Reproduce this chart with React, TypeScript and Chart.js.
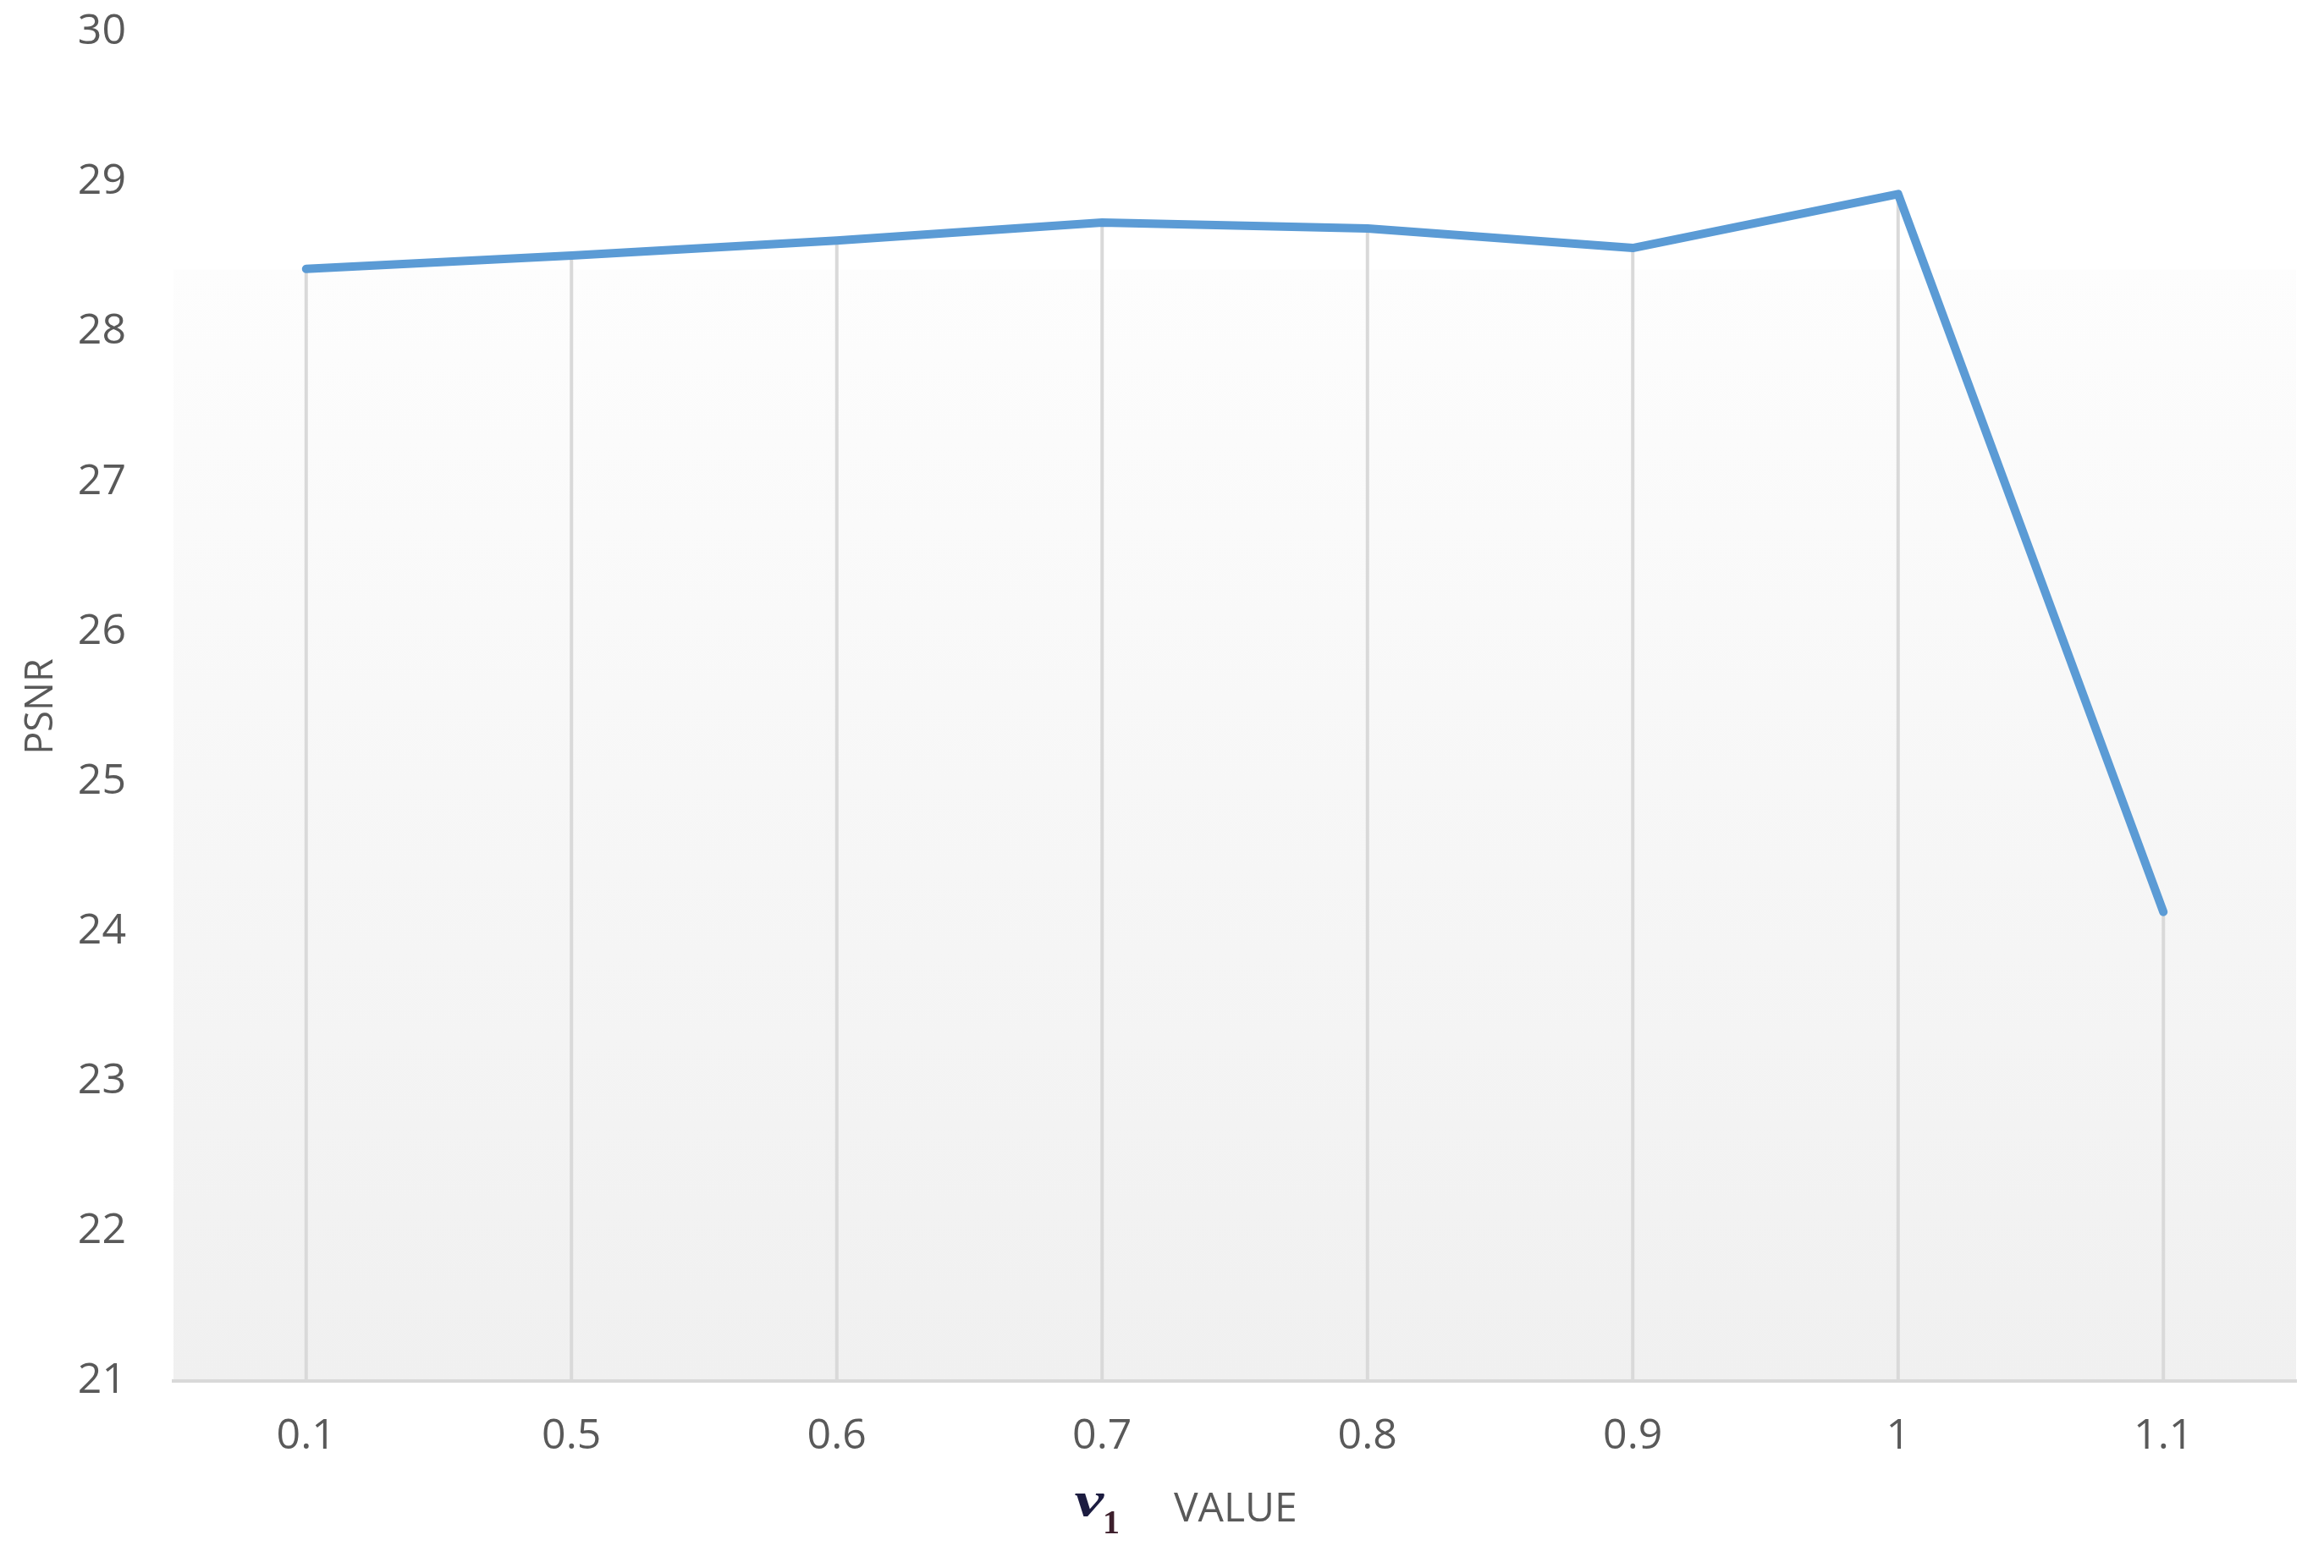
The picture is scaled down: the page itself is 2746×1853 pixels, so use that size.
import React, { useEffect, useRef } from "react";
import { Chart, registerables } from "chart.js";

Chart.register(...registerables);

// ---- data ----
const categories = ["0.1", "0.5", "0.6", "0.7", "0.8", "0.9", "1", "1.1"];
const psnrValues = [28.42, 28.51, 28.61, 28.73, 28.69, 28.56, 28.92, 24.13];
const yMin = 21;
const yMax = 30;
const yStep = 1;
const yAxisTitle = "PSNR";
const xTitleSymbol = "ν";
const xTitleSubscript = "1";
const xTitleWord = "VALUE";

const TEXT_COLOR = "#595959";
const LINE_COLOR = "#5B9BD5";
const GRID_COLOR = "#d9d9d9";

const backgroundPlugin = {
  id: "plotGradient",
  beforeDraw(chart: any) {
    const { ctx, chartArea: a } = chart;
    if (!a) return;
    ctx.save();
    ctx.fillStyle = "#ffffff";
    ctx.fillRect(0, 0, chart.width, chart.height);
    const top = a.top + (a.bottom - a.top) * 0.176;
    const g = ctx.createLinearGradient(0, top, 0, a.bottom);
    g.addColorStop(0, "#fdfdfd");
    g.addColorStop(1, "#f0f0f0");
    ctx.fillStyle = g;
    ctx.fillRect(a.left, top, a.right - a.left, a.bottom - top);
    ctx.restore();
  },
};

const dropLinePlugin = {
  id: "dropLines",
  beforeDatasetsDraw(chart: any) {
    const { ctx, chartArea: a } = chart;
    const meta = chart.getDatasetMeta(0);
    ctx.save();
    ctx.strokeStyle = GRID_COLOR;
    ctx.lineWidth = 4;
    meta.data.forEach((p: any) => {
      ctx.beginPath();
      ctx.moveTo(p.x, p.y);
      ctx.lineTo(p.x, a.bottom);
      ctx.stroke();
    });
    ctx.restore();
  },
};

const xTitlePlugin = {
  id: "xTitle",
  afterDraw(chart: any) {
    const { ctx, chartArea: a } = chart;
    const cx = (a.left + a.right) / 2;
    const y = a.bottom + 152;
    ctx.save();
    ctx.textBaseline = "middle";
    ctx.textAlign = "center";
    // greek nu, bold italic serif, stretched a little wider
    ctx.save();
    ctx.translate(cx - 172, y - 8);
    ctx.scale(1.35, 1);
    ctx.fillStyle = "#1c1c40";
    ctx.font = "bold italic 58px 'Liberation Serif', 'DejaVu Serif', serif";
    ctx.fillText(xTitleSymbol, 0, 0);
    ctx.restore();
    ctx.fillStyle = "#3d1f2c";
    ctx.font = "bold 40px 'Liberation Serif', 'DejaVu Serif', serif";
    ctx.fillText(xTitleSubscript, cx - 146, y + 18);
    ctx.textAlign = "left";
    ctx.fillStyle = TEXT_COLOR;
    ctx.font = "48px 'Open Sans', sans-serif";
    ctx.fillText(xTitleWord, cx - 72, y);
    ctx.restore();
  },
};

export default function App() {
  const canvasRef = useRef<HTMLCanvasElement | null>(null);

  useEffect(() => {
    if (!canvasRef.current) return;
    Chart.defaults.font.family = "'Open Sans', sans-serif";
    const chart = new Chart(canvasRef.current, {
      type: "line",
      data: {
        labels: categories,
        datasets: [
          {
            label: yAxisTitle,
            data: psnrValues,
            borderColor: LINE_COLOR,
            backgroundColor: LINE_COLOR,
            borderWidth: 10,
            borderCapStyle: "round",
            borderJoinStyle: "round",
            pointRadius: 0,
            tension: 0,
            fill: false,
          },
        ],
      },
      options: {
        responsive: false,
        animation: false,
        layout: { padding: { top: 0, right: 33, left: 0, bottom: 0 } },
        plugins: {
          legend: { display: false },
          tooltip: { enabled: false },
          title: { display: false },
        },
        scales: {
          x: {
            offset: true,
            grid: { display: false, drawTicks: false },
            border: { display: true, color: GRID_COLOR, width: 4 },
            ticks: {
              color: TEXT_COLOR,
              font: { size: 50 },
              padding: 36,
              maxRotation: 0,
            },
            afterFit(scale: any) {
              scale.height = 221;
            },
          },
          y: {
            min: yMin,
            max: yMax,
            grid: { display: false, drawTicks: false },
            border: { display: false },
            ticks: {
              stepSize: yStep,
              color: TEXT_COLOR,
              font: { size: 50 },
              padding: 56,
            },
            title: {
              display: true,
              text: yAxisTitle,
              color: TEXT_COLOR,
              font: { size: 45 },
              padding: { top: 22, bottom: 0 },
            },
            afterFit(scale: any) {
              scale.width = 205;
              scale.paddingTop = 38;
              scale.paddingBottom = 0;
            },
          },
        },
      },
      plugins: [backgroundPlugin, dropLinePlugin, xTitlePlugin],
    });
    return () => chart.destroy();
  }, []);

  return (
    <div style={{ position: "absolute", left: 0, top: 0, width: 2746, height: 1853, background: "#fff" }}>
      <canvas ref={canvasRef} width={2746} height={1853} style={{ display: "block" }} />
    </div>
  );
}
